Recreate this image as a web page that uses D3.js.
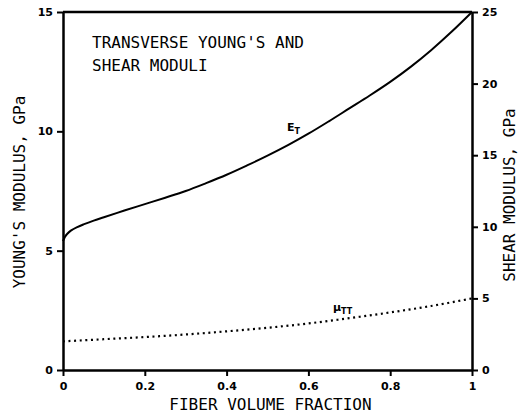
<!DOCTYPE html>
<html>
<head>
<meta charset="utf-8">
<script src="https://cdn.jsdelivr.net/npm/d3@7/dist/d3.min.js"></script>
<style>
  html, body { margin: 0; padding: 0; background: #fff; }
  svg { display: block; }
  .tick text { font-family: "DejaVu Sans", sans-serif; font-weight: bold; font-size: 11px; fill: #000; }
  .lbl { font-family: "DejaVu Sans Mono", monospace; font-size: 16px; fill: #000; }
</style>
</head>
<body>
<svg id="chart" width="520" height="418"></svg>
<script>
// ---- data ----
const fiberFraction = [0, 0.005, 0.01, 0.02, 0.035, 0.05, 0.075, 0.1, 0.15, 0.2, 0.25, 0.3, 0.35, 0.4, 0.45, 0.5, 0.55, 0.6, 0.65, 0.7, 0.75, 0.8, 0.85, 0.9, 0.95, 1.0];
const youngsE_T = [5.4, 5.58, 5.7, 5.85, 5.99, 6.1, 6.26, 6.4, 6.68, 6.95, 7.22, 7.5, 7.83, 8.18, 8.57, 8.98, 9.42, 9.9, 10.42, 10.96, 11.5, 12.07, 12.7, 13.4, 14.17, 15.0];
const muFraction = [0, 0.1, 0.2, 0.3, 0.4, 0.5, 0.6, 0.7, 0.8, 0.9, 1.0];
const shearMu_TT = [2.0, 2.15, 2.3, 2.48, 2.7, 2.95, 3.25, 3.62, 4.02, 4.47, 5.0];
const xTicks = [0, 0.2, 0.4, 0.6, 0.8, 1];
const xTickLabels = ["0", "0.2", "0.4", "0.6", "0.8", "1"];
const leftTicks = [0, 5, 10, 15];
const rightTicks = [0, 5, 10, 15, 20, 25];
const titleLines = ["TRANSVERSE YOUNG'S AND", "SHEAR MODULI"];
const xTitle = "FIBER VOLUME FRACTION";
const leftTitle = "YOUNG'S MODULUS, GPa";
const rightTitle = "SHEAR MODULUS, GPa";

// ---- layout ----
const L = 63, R = 472, T = 12, B = 370;
const svg = d3.select("#chart");
const x = d3.scaleLinear().domain([0, 1]).range([L, R]);
const yL = d3.scaleLinear().domain([0, 15]).range([B, T]);
const yR = d3.scaleLinear().domain([0, 25]).range([B, T]);

// axes
const gx = svg.append("g").attr("transform", `translate(0,${B})`)
  .call(d3.axisBottom(x).tickValues(xTicks).tickFormat((d, i) => xTickLabels[i]).tickSize(6).tickSizeOuter(0).tickPadding(6));
const gl = svg.append("g").attr("transform", `translate(${L},0)`)
  .call(d3.axisLeft(yL).tickValues(leftTicks).tickSize(6).tickSizeOuter(0).tickPadding(4));
const gr = svg.append("g").attr("transform", `translate(${R},0)`)
  .call(d3.axisRight(yR).tickValues(rightTicks).tickSize(6).tickSizeOuter(0).tickPadding(4));
[gx, gl, gr].forEach(g => {
  g.selectAll("path.domain").attr("stroke", "#000").attr("stroke-width", 2.5);
  g.selectAll(".tick line").attr("stroke", "#000").attr("stroke-width", 2);
});
// top frame line
svg.append("line").attr("x1", x(0)).attr("x2", x(1)).attr("y1", yL(15)).attr("y2", yL(15))
  .attr("stroke", "#000").attr("stroke-width", 2.5);

// curves
const lineE = d3.line().x((d, i) => x(fiberFraction[i])).y(d => yL(d)).curve(d3.curveCatmullRom.alpha(0.5));
svg.append("path").datum(youngsE_T).attr("d", lineE)
  .attr("fill", "none").attr("stroke", "#000").attr("stroke-width", 2);

const lineMu = d3.line().x((d, i) => x(muFraction[i])).y(d => yR(d)).curve(d3.curveCatmullRom.alpha(0.5));
svg.append("path").datum(shearMu_TT).attr("d", lineMu)
  .attr("fill", "none").attr("stroke", "#000").attr("stroke-width", 2.2)
  .attr("stroke-dasharray", "2,3.6");

// curve labels
const eLab = svg.append("text").attr("x", 287).attr("y", 131)
  .attr("font-family", "DejaVu Sans, sans-serif").attr("font-weight", "bold").attr("font-size", 11);
eLab.append("tspan").text("E");
eLab.append("tspan").attr("font-size", 8).attr("dy", 3).text("T");

const mLab = svg.append("text").attr("x", 333).attr("y", 311)
  .attr("font-family", "DejaVu Sans, sans-serif").attr("font-weight", "bold").attr("font-size", 11);
mLab.append("tspan").text("\u03BC");
mLab.append("tspan").attr("font-size", 8).attr("dy", 3).text("TT");

// titles
svg.append("text").attr("class", "lbl").attr("x", 92).attr("y", 48).text(titleLines[0]);
svg.append("text").attr("class", "lbl").attr("x", 92).attr("y", 71).text(titleLines[1]);
svg.append("text").attr("class", "lbl").attr("x", (L + R) / 2 + 3).attr("y", 410)
  .attr("text-anchor", "middle").text(xTitle);
svg.append("text").attr("class", "lbl").attr("text-anchor", "middle")
  .attr("transform", `translate(25,192) rotate(-90)`).text(leftTitle);
svg.append("text").attr("class", "lbl").attr("text-anchor", "middle")
  .attr("transform", `translate(515,195) rotate(-90)`).text(rightTitle);
</script>
</body>
</html>
